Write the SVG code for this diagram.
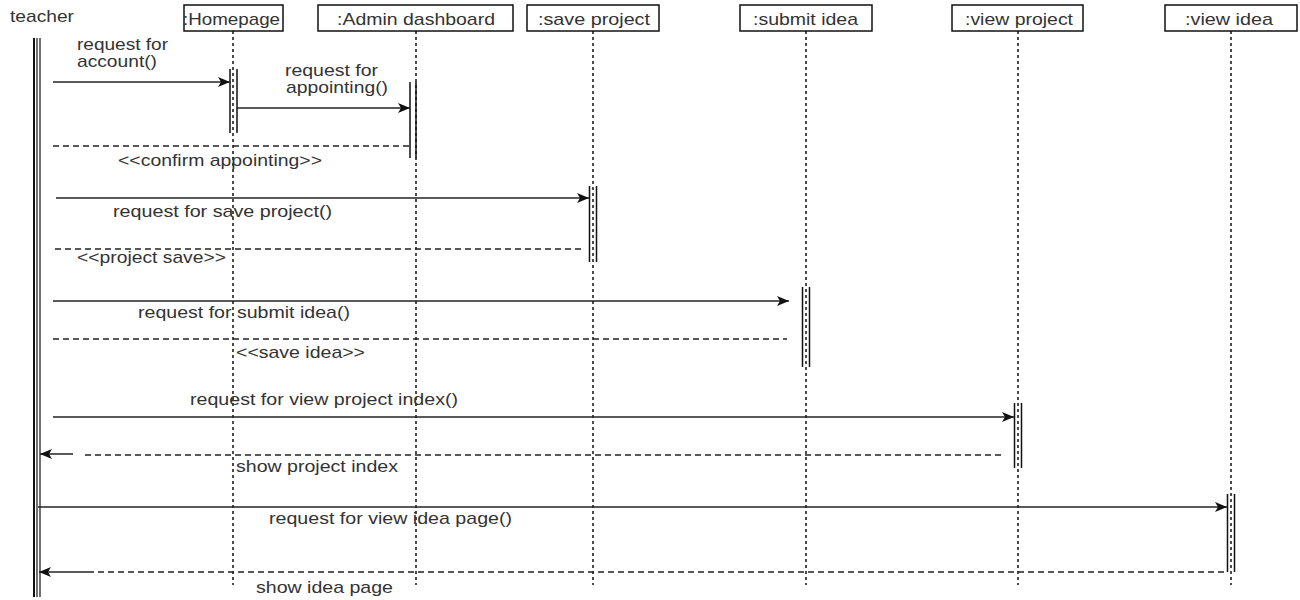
<svg xmlns="http://www.w3.org/2000/svg" width="1300" height="600" viewBox="0 0 1300 600">
<style>
text{font-family:"Liberation Sans",Arial,sans-serif;font-size:17px;fill:#333}
.box{fill:#fff;stroke:#111;stroke-width:1.5}
.life{stroke:#111;stroke-width:1.5;stroke-dasharray:3,3;fill:none}
.act{fill:none;stroke:#111;stroke-width:1.5}
.msg{stroke:#222;stroke-width:1.3;fill:none}
.ret{stroke:#222;stroke-width:1.3;fill:none;stroke-dasharray:6,4}
</style>
<defs>
<marker id="arr" viewBox="0 0 12 10" refX="12" refY="5" markerWidth="12" markerHeight="10" orient="auto" markerUnits="userSpaceOnUse"><path d="M0,0 L12,5 L0,10 L3,5 z" fill="#111"/></marker>
</defs>
<rect width="1300" height="600" fill="#fff"/>

<g id="teacher">
<text x="10" y="22" textLength="64" lengthAdjust="spacingAndGlyphs">teacher</text>
<line x1="34" y1="38" x2="34" y2="597" stroke="#111" stroke-width="2"/>
<line x1="37" y1="38" x2="37" y2="597" stroke="#111" stroke-width="1.2"/>
<line x1="40" y1="38" x2="40" y2="597" stroke="#111" stroke-width="1.2"/>
</g>

<g id="homepage">
<line class="life" x1="233" y1="31" x2="233" y2="585"/>
<rect class="box" x="184" y="5" width="99" height="26"/>
<text x="183" y="25" textLength="97" lengthAdjust="spacingAndGlyphs">:Homepage</text>
<path class="act" d="M230,69 V133 M237,69 V133"/>
</g>

<g id="admin">
<line class="life" x1="416" y1="31" x2="416" y2="585"/>
<rect class="box" x="318" y="5" width="195" height="26"/>
<text x="337" y="25" textLength="158" lengthAdjust="spacingAndGlyphs">:Admin dashboard</text>
<path class="act" d="M410,82 V158 M416,82 V158"/>
</g>

<g id="saveproject">
<line class="life" x1="593" y1="31" x2="593" y2="585"/>
<rect class="box" x="527" y="5" width="132" height="26"/>
<text x="538" y="25" textLength="112" lengthAdjust="spacingAndGlyphs">:save project</text>
<path class="act" d="M589.5,186 V262 M596.5,186 V262"/>
</g>

<g id="submitidea">
<line class="life" x1="806" y1="31" x2="806" y2="585"/>
<rect class="box" x="740" y="5" width="132" height="26"/>
<text x="753" y="25" textLength="105" lengthAdjust="spacingAndGlyphs">:submit idea</text>
<path class="act" d="M802.5,287 V367 M809.5,287 V367"/>
</g>

<g id="viewproject">
<line class="life" x1="1018" y1="31" x2="1018" y2="585"/>
<rect class="box" x="952" y="5" width="131" height="26"/>
<text x="965" y="25" textLength="108" lengthAdjust="spacingAndGlyphs">:view project</text>
<path class="act" d="M1014.5,403 V468 M1021.5,403 V468"/>
</g>

<g id="viewidea">
<line class="life" x1="1231" y1="31" x2="1231" y2="585"/>
<rect class="box" x="1165" y="5" width="132" height="26"/>
<text x="1185" y="25" textLength="88" lengthAdjust="spacingAndGlyphs">:view idea</text>
<path class="act" d="M1227.5,494 V572 M1234.5,494 V572"/>
</g>

<g id="connectors">
<line class="msg" x1="53" y1="82" x2="230" y2="82" marker-end="url(#arr)"/>
<text x="77" y="50" textLength="91" lengthAdjust="spacingAndGlyphs">request for</text>
<text x="77" y="67" textLength="80" lengthAdjust="spacingAndGlyphs">account()</text>

<line class="msg" x1="237" y1="108" x2="410" y2="108" marker-end="url(#arr)"/>
<text x="285" y="76" textLength="93" lengthAdjust="spacingAndGlyphs">request for</text>
<text x="286" y="93" textLength="102" lengthAdjust="spacingAndGlyphs">appointing()</text>

<line class="ret" x1="53" y1="146" x2="410" y2="146"/>
<text x="118" y="166" textLength="204" lengthAdjust="spacingAndGlyphs">&lt;&lt;confirm appointing&gt;&gt;</text>

<line class="msg" x1="56" y1="198" x2="589" y2="198" marker-end="url(#arr)"/>
<text x="113" y="217" textLength="219" lengthAdjust="spacingAndGlyphs">request for save project()</text>

<line class="ret" x1="55" y1="249" x2="582" y2="249"/>
<text x="77" y="263" textLength="149" lengthAdjust="spacingAndGlyphs">&lt;&lt;project save&gt;&gt;</text>

<line class="msg" x1="53" y1="301" x2="789" y2="301" marker-end="url(#arr)"/>
<text x="138" y="318" textLength="212" lengthAdjust="spacingAndGlyphs">request for submit idea()</text>

<line class="ret" x1="53" y1="339" x2="787" y2="339"/>
<text x="236" y="358" textLength="129" lengthAdjust="spacingAndGlyphs">&lt;&lt;save idea&gt;&gt;</text>

<line class="msg" x1="53" y1="417" x2="1014" y2="417" marker-end="url(#arr)"/>
<text x="190" y="405" textLength="268" lengthAdjust="spacingAndGlyphs">request for view project index()</text>

<line class="ret" x1="85" y1="455" x2="1003" y2="455"/>
<line class="msg" x1="73" y1="454" x2="40" y2="454" marker-end="url(#arr)"/>
<text x="236" y="472" textLength="162" lengthAdjust="spacingAndGlyphs">show project index</text>

<line class="msg" x1="38" y1="507" x2="1227" y2="507" marker-end="url(#arr)"/>
<text x="269" y="524" textLength="243" lengthAdjust="spacingAndGlyphs">request for view idea page()</text>

<line class="ret" x1="88" y1="572" x2="1227" y2="572"/>
<line class="msg" x1="88" y1="572" x2="39" y2="572" marker-end="url(#arr)"/>
<text x="256" y="593" textLength="137" lengthAdjust="spacingAndGlyphs">show idea page</text>
</g>
</svg>
